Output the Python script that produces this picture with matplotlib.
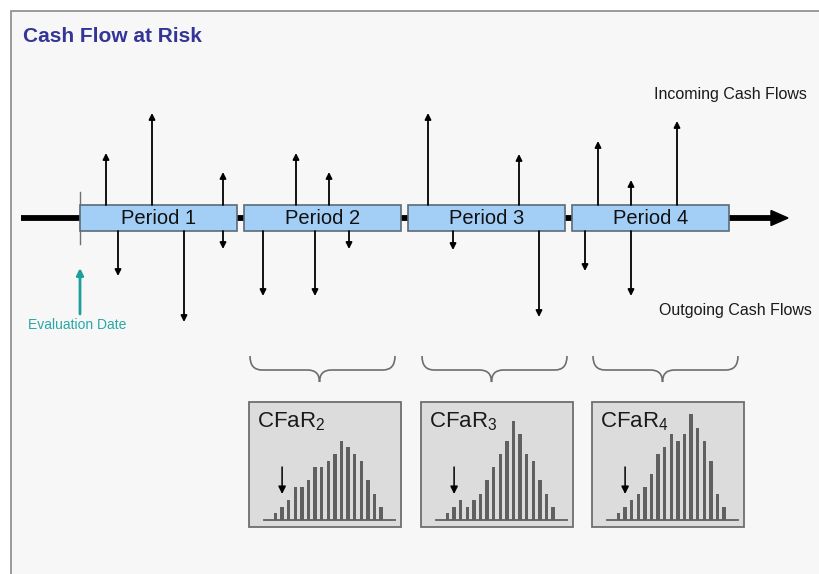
"""
Cash Flow at Risk - shematski prikaz (timeline + CFaR histogrami).
"""

import matplotlib.pyplot as plt
from matplotlib.patches import Rectangle, Polygon, PathPatch
from matplotlib.path import Path

plt.rcParams['font.family'] = ['Liberation Sans', 'DejaVu Sans']
plt.rcParams['mathtext.fontset'] = 'custom'
plt.rcParams['mathtext.rm'] = 'Liberation Sans'
plt.rcParams['mathtext.default'] = 'regular'

# --- podaci (koordinate sheme u pikselima) ---
periods = ['Period 1', 'Period 2', 'Period 3', 'Period 4']
period_starts = [80, 244, 408, 572]
period_width = 157

in_times = [106, 152, 223, 296, 329, 428, 519, 598, 631, 677]
in_sizes = [52, 92, 33, 52, 33, 92, 51, 64, 25, 84]
out_times = [118, 184, 223, 263, 315, 349, 453, 539, 585, 631]
out_sizes = [45, 91, 18, 65, 65, 18, 19, 86, 40, 65]

cfar_labels = ['CFaR$_{2}$', 'CFaR$_{3}$', 'CFaR$_{4}$']
cfar_boxes = [249, 421, 592]
hist_values = [
    [1, 2, 3, 5, 5, 6, 8, 8, 9, 10, 12, 11, 10, 9, 6, 4, 2],
    [1, 2, 3, 2, 3, 4, 6, 8, 10, 12, 15, 13, 10, 9, 6, 4, 2],
    [1, 2, 3, 4, 5, 7, 10, 11, 13, 12, 13, 16, 14, 12, 9, 4, 2],
]
var_index = 1

# stil
BOX_TOP, BOX_BOT = 205, 231
AXIS_Y = 218
BLUE = '#a3cff7'
TEAL = '#1f9e9e'

fig = plt.figure(figsize=(8.2, 5.74), dpi=100)
fig.patch.set_facecolor('white')
ax = fig.add_axes([0, 0, 1, 1])
ax.set_xlim(0, 820)
ax.set_ylim(574, 0)
ax.axis('off')

# okvir slajda
ax.add_patch(Rectangle((11, 11), 830, 600, facecolor='#f7f7f7',
                       edgecolor='#8a8a8a', lw=1.2, zorder=0))

ax.text(23, 37, 'Cash Flow at Risk', fontsize=15, fontweight='bold',
        color='#343597', ha='left', va='center')

# vremenska os
ax.plot([21, 775], [AXIS_Y, AXIS_Y], color='black', lw=4.2,
        solid_capstyle='butt', zorder=1)
ax.add_patch(Polygon([[771, AXIS_Y - 7.5], [788, AXIS_Y], [771, AXIS_Y + 7.5]],
                     closed=True, color='black', zorder=1))

# datum procjene
ax.plot([80, 80], [192, 244], color='#707070', lw=1, zorder=1)
ax.annotate('', xy=(80, 268), xytext=(80, 314),
            arrowprops=dict(arrowstyle='-|>', color=TEAL, lw=2,
                            mutation_scale=10, shrinkA=0, shrinkB=0))
ax.text(77, 325, 'Evaluation Date', fontsize=10, color='#2aa7a7',
        ha='center', va='center')

# periodi
for name, x0 in zip(periods, period_starts):
    ax.add_patch(Rectangle((x0, BOX_TOP), period_width, BOX_BOT - BOX_TOP,
                           facecolor=BLUE, edgecolor='#5c6b78', lw=1.2, zorder=3))
    ax.text(x0 + period_width / 2, AXIS_Y + 0.5, name, fontsize=14.5,
            color='#111111', ha='center', va='center', zorder=4)

arrow_kw = dict(arrowstyle='-|>', color='black', lw=1.3,
                mutation_scale=9, shrinkA=0, shrinkB=0)
for t, s in zip(in_times, in_sizes):
    ax.annotate('', xy=(t, BOX_TOP - s), xytext=(t, BOX_TOP), arrowprops=arrow_kw)
for t, s in zip(out_times, out_sizes):
    ax.annotate('', xy=(t, BOX_BOT + s), xytext=(t, BOX_BOT), arrowprops=arrow_kw)

ax.text(654, 95, 'Incoming Cash Flows', fontsize=11.5, color='#1a1a1a',
        ha='left', va='center')
ax.text(659, 310, 'Outgoing Cash Flows', fontsize=11.5, color='#1a1a1a',
        ha='left', va='center')


def brace(x0, x1, y_top=356, y_mid=370, y_tip=382, r=12):
    xc = (x0 + x1) / 2 - 3
    verts = [(x0, y_top), (x0, y_mid), (x0 + r, y_mid),
             (xc - r, y_mid), (xc, y_mid), (xc, y_tip),
             (xc, y_mid), (xc + r, y_mid),
             (x1 - r, y_mid), (x1, y_mid), (x1, y_top)]
    codes = [Path.MOVETO, Path.CURVE3, Path.CURVE3,
             Path.LINETO, Path.CURVE3, Path.CURVE3,
             Path.CURVE3, Path.CURVE3,
             Path.LINETO, Path.CURVE3, Path.CURVE3]
    ax.add_patch(PathPatch(Path(verts, codes), facecolor='none',
                           edgecolor='#6e6e6e', lw=1.2))


# CFaR kutije s histogramima
BOX_W, BOX_H, BOX_Y = 152, 125, 402
STEP = 6.6
BASE_Y = 520
for label, bx, vals in zip(cfar_labels, cfar_boxes, hist_values):
    brace(bx + 1, bx + 146)
    ax.add_patch(Rectangle((bx, BOX_Y), BOX_W, BOX_H, facecolor='#dcdcdc',
                           edgecolor='#6e6e6e', lw=1.3, zorder=2))
    ax.text(bx + 8.5, 427.5, label, fontsize=16, color='#1a1a1a',
            ha='left', va='baseline', zorder=4)
    xs = [bx + 26.5 + i * STEP for i in range(len(vals))]
    ax.bar(xs, [-v * STEP for v in vals], bottom=BASE_Y, width=3.3,
           color='#606060', zorder=3)
    ax.plot([bx + 15, bx + 146], [BASE_Y, BASE_Y], color='#606060', lw=1.3,
            zorder=3)
    xa = xs[var_index]
    ax.annotate('', xy=(xa, 494), xytext=(xa, 467),
                arrowprops=dict(arrowstyle='-|>', color='black', lw=1.1,
                                mutation_scale=11, shrinkA=0, shrinkB=0),
                zorder=4)

fig.savefig('out.png', dpi=100)
